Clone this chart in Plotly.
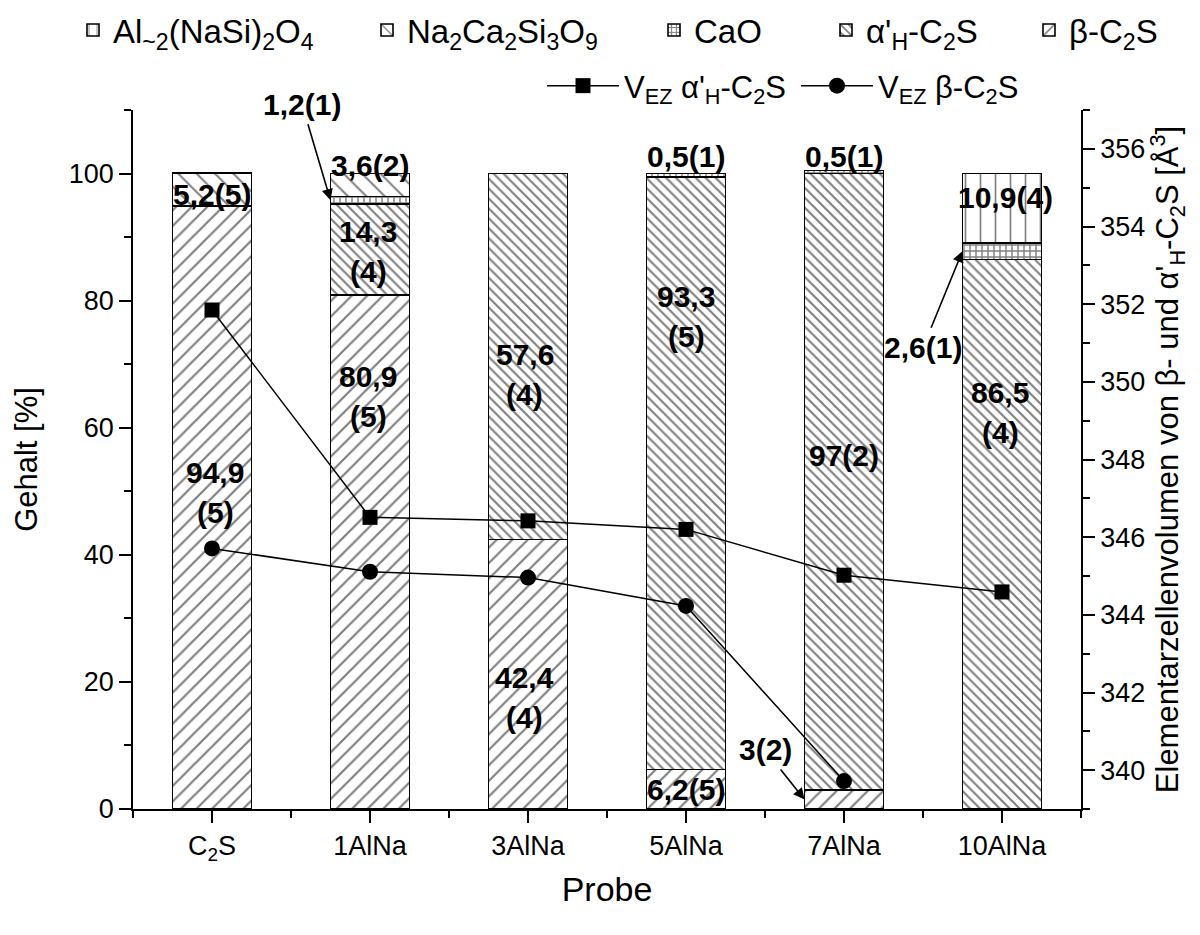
import plotly.graph_objects as go

# ---- data -------------------------------------------------------------
samples = ["C<sub>2</sub>S", "1AlNa", "3AlNa", "5AlNa", "7AlNa", "10AlNa"]

# phase contents in % (None = phase not present) and last-digit uncertainties
beta_c2s = [94.9, 80.9, 42.4, 6.2, 3.0, None]
beta_err = [5, 5, 4, 5, 2, None]
alpha_c2s = [None, 14.3, 57.6, 93.3, 97.0, 86.5]
alpha_err = [None, 4, 4, 5, 2, 4]
cao = [None, 1.2, None, 0.5, 0.5, 2.6]
cao_err = [None, 1, None, 1, 1, 1]
na2ca2si3o9 = [5.2, 3.6, None, None, None, None]
na2ca2si3o9_err = [5, 2, None, None, None, None]
al_nasi = [None, None, None, None, None, 10.9]
al_nasi_err = [None, None, None, None, None, 4]

# unit-cell volumes in A^3
v_alpha = [351.85, 346.51, 346.42, 346.20, 345.02, 344.59]
v_beta = [345.71, 345.11, 344.96, 344.23, 339.72, None]

# ---- styling ------------------------------------------------------------
FONT = "Liberation Sans, Arial, sans-serif"
x_pos = list(range(len(samples)))

# plot area in pixels: x 133..1081, y 110..809
L, R, T, B = 133, 119, 110, 126
PW, PH = 1200 - L - R, 935 - T - B


def px_x(p):
    return (p - L) / PW


def px_y(p):
    return (935 - B - p) / PH


phases = [
    # stacking order bottom -> top
    dict(key="beta", name="β-C<sub>2</sub>S", y=beta_c2s, err=beta_err,
         shape="/", size=11, solidity=0.2, legend="legend5", lx=1071),
    dict(key="alpha", name="α'<sub>H</sub>-C<sub>2</sub>S", y=alpha_c2s, err=alpha_err,
         shape="\\", size=7, solidity=0.3, legend="legend4", lx=868),
    dict(key="cao", name="CaO", y=cao, err=cao_err,
         shape="+", size=6, solidity=0.42, legend="legend3", lx=696),
    dict(key="na", name="Na<sub>2</sub>Ca<sub>2</sub>Si<sub>3</sub>O<sub>9</sub>",
         y=na2ca2si3o9, err=na2ca2si3o9_err,
         shape="\\", size=13, solidity=0.15, legend="legend2", lx=409),
    dict(key="al", name="Al<sub>~2</sub>(NaSi)<sub>2</sub>O<sub>4</sub>",
         y=al_nasi, err=al_nasi_err,
         shape="|", size=15, solidity=0.11, legend="legend", lx=115),
]

fig = go.Figure()

for ph in phases:
    fig.add_trace(go.Bar(
        x=x_pos, y=ph["y"], name=ph["name"], width=0.5,
        legend=ph["legend"],
        marker=dict(
            color="white",
            line=dict(color="black", width=1.6),
            pattern=dict(shape=ph["shape"], size=ph["size"], solidity=ph["solidity"],
                         fgcolor="black", bgcolor="white", fillmode="overlay"),
        ),
        hoverinfo="skip",
    ))

fig.add_trace(go.Scatter(
    x=x_pos, y=v_alpha, yaxis="y2", name="V<sub>EZ</sub> α'<sub>H</sub>-C<sub>2</sub>S",
    mode="lines+markers", legend="legend6",
    line=dict(color="black", width=1.5),
    marker=dict(symbol="square", size=15, color="black"),
))
fig.add_trace(go.Scatter(
    x=x_pos, y=v_beta, yaxis="y2", name="V<sub>EZ</sub> β-C<sub>2</sub>S",
    mode="lines+markers", legend="legend7",
    line=dict(color="black", width=1.5),
    marker=dict(symbol="circle", size=16, color="black"),
))

# ---- value labels -------------------------------------------------------
series = {ph["key"]: ph for ph in phases}
stack_order = [ph["key"] for ph in phases]


def fmt_val(v):
    return f"{v:g}".replace(".", ",")


def seg_mid(key, i):
    base = 0.0
    for k in stack_order:
        v = series[k]["y"][i] or 0.0
        if k == key:
            return base + v / 2
        base += v
    return base


# (phase, sample index, text x, text y, two lines?, arrow to bar edge?)
placements = [
    ("na", 0, 0.0, 96.7, False, False),
    ("beta", 0, 0.02, 49.8, True, False),
    ("cao", 1, 0.57, 110.9, False, True),
    ("na", 1, 1.0, 101.3, False, False),
    ("alpha", 1, 0.99, 87.7, True, False),
    ("beta", 1, 0.99, 64.9, True, False),
    ("alpha", 2, 1.98, 68.3, True, False),
    ("beta", 2, 1.98, 17.6, True, False),
    ("cao", 3, 3.0, 102.7, False, False),
    ("alpha", 3, 3.0, 77.5, True, False),
    ("beta", 3, 3.0, 3.0, False, False),
    ("cao", 4, 4.0, 102.7, False, False),
    ("alpha", 4, 4.0, 55.7, False, False),
    ("beta", 4, 3.5, 9.3, False, True),
    ("cao", 5, 4.5, 72.6, False, True),
    ("al", 5, 5.02, 96.2, False, False),
    ("alpha", 5, 4.99, 62.4, True, False),
]

annotations = []
lab_font = dict(family=FONT, size=30, color="black")
for key, i, tx, ty, two, arrow in placements:
    v = series[key]["y"][i]
    e = series[key]["err"][i]
    if arrow:
        annotations.append(dict(
            x=i - 0.25, y=seg_mid(key, i), xref="x", yref="y",
            ax=tx, ay=ty, axref="x", ayref="y",
            text=f"<b>{fmt_val(v)}({e})</b>", font=lab_font,
            showarrow=True, arrowhead=2, arrowsize=1.4, arrowwidth=1.6,
            arrowcolor="black", standoff=0, startstandoff=2,
        ))
    elif two:
        annotations.append(dict(x=tx, y=ty, xref="x", yref="y", yshift=20,
                                text=f"<b>{fmt_val(v)}</b>", font=lab_font, showarrow=False))
        annotations.append(dict(x=tx, y=ty, xref="x", yref="y", yshift=-20,
                                text=f"<b>({e})</b>", font=lab_font, showarrow=False))
    else:
        annotations.append(dict(x=tx, y=ty, xref="x", yref="y",
                                text=f"<b>{fmt_val(v)}({e})</b>", font=lab_font,
                                showarrow=False))

# ---- layout -------------------------------------------------------------
axis_common = dict(
    showline=True, linecolor="black", linewidth=1.6,
    ticks="outside", ticklen=12, tickwidth=1.6, tickcolor="black",
    showgrid=False, zeroline=False,
    tickfont=dict(family=FONT, size=27, color="black"),
)

legend_font = dict(family=FONT, size=33, color="black")
legends = {}
for ph in phases:
    legends[ph["legend"]] = dict(
        x=px_x(ph["lx"] - 42), xanchor="left", y=px_y(30), yanchor="middle",
        orientation="h", font=legend_font, bgcolor="rgba(0,0,0,0)",
    )
line_legend_font = dict(family=FONT, size=31, color="black")
legends["legend6"] = dict(x=px_x(542), xanchor="left", y=px_y(86), yanchor="middle",
                          orientation="h", font=line_legend_font, itemwidth=72,
                          bgcolor="rgba(0,0,0,0)")
legends["legend7"] = dict(x=px_x(796), xanchor="left", y=px_y(86), yanchor="middle",
                          orientation="h", font=line_legend_font, itemwidth=72,
                          bgcolor="rgba(0,0,0,0)")

fig.update_layout(
    width=1200, height=935,
    margin=dict(l=L, r=R, t=T, b=B, autoexpand=False),
    paper_bgcolor="white", plot_bgcolor="white",
    barmode="stack",
    font=dict(family=FONT, color="black"),
    showlegend=True,
    xaxis=dict(
        **axis_common,
        range=[-0.5, 5.5],
        tickmode="array", tickvals=x_pos, ticktext=samples,
        minor=dict(tickmode="array", tickvals=[k + 0.5 for k in range(-1, 6)],
                   ticklen=7, tickwidth=1.6, tickcolor="black", ticks="outside"),
        title=dict(text="Probe", font=dict(family=FONT, size=34), standoff=13),
    ),
    yaxis=dict(
        **axis_common,
        range=[0, 110], tick0=0, dtick=20,
        minor=dict(dtick=10, ticklen=7, tickwidth=1.6, tickcolor="black", ticks="outside"),
        title=dict(text="Gehalt [%]", font=dict(family=FONT, size=31), standoff=22),
    ),
    yaxis2=dict(
        **axis_common,
        overlaying="y", side="right", anchor="x",
        range=[339, 357], tick0=340, dtick=2,
        minor=dict(dtick=1, ticklen=7, tickwidth=1.6, tickcolor="black", ticks="outside"),
        title=dict(text="Elementarzellenvolumen von β- und α'<sub>H</sub>-C<sub>2</sub>S [Å<sup>3</sup>]",
                   font=dict(family=FONT, size=31), standoff=10),
    ),
    annotations=annotations,
    **legends,
)

fig.write_html("out.html")
